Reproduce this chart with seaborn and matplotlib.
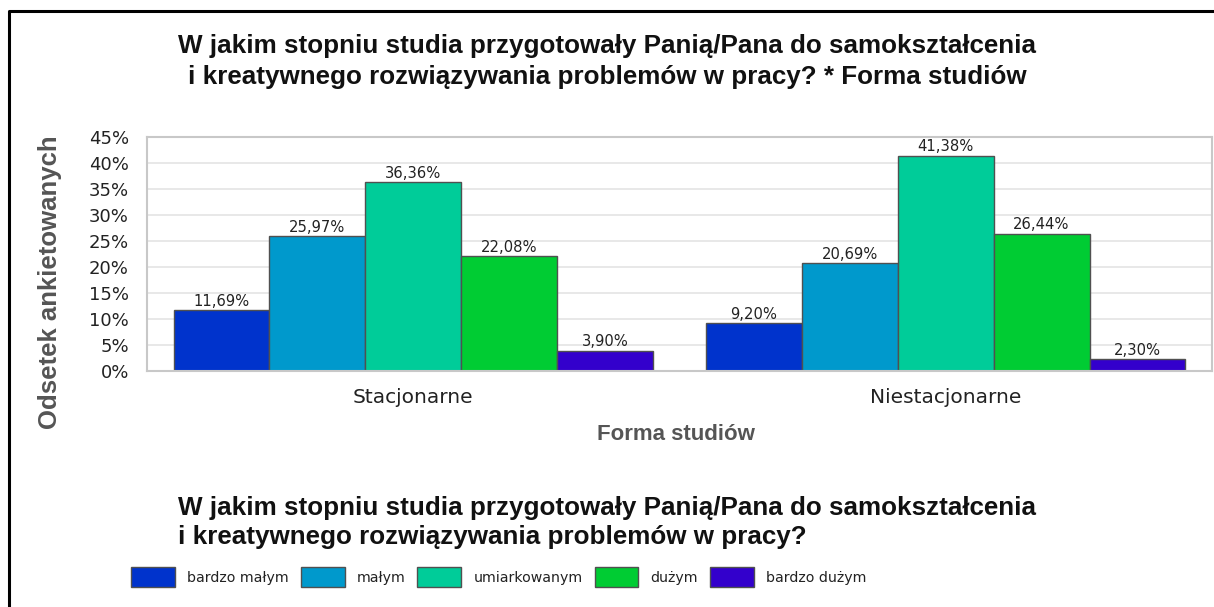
import seaborn as sns
import matplotlib.pyplot as plt
import pandas as pd
from matplotlib.patches import Patch
from matplotlib.lines import Line2D

# data
forma = ['Stacjonarne', 'Niestacjonarne']
poziomy = ['bardzo małym', 'małym', 'umiarkowanym', 'dużym', 'bardzo dużym']
stacjonarne = [11.69, 25.97, 36.36, 22.08, 3.90]
niestacjonarne = [9.20, 20.69, 41.38, 26.44, 2.30]
kolory = ['#0033cc', '#0099cc', '#00cc99', '#00cc33', '#3300cc']
yticks = [0, 5, 10, 15, 20, 25, 30, 35, 40, 45]

df = pd.DataFrame({
    'forma': [forma[0]] * 5 + [forma[1]] * 5,
    'poziom': poziomy + poziomy,
    'odsetek': stacjonarne + niestacjonarne,
})

sns.set_style('white')
plt.rcParams['font.family'] = ['DejaVu Sans']

W, H = 1214, 607
fig = plt.figure(figsize=(W / 100, H / 100), dpi=100)
ax = fig.add_axes([147 / W, 1 - 371 / H, (1212 - 147) / W, (371 - 137) / H])

sns.barplot(data=df, x='forma', y='odsetek', hue='poziom', hue_order=poziomy,
            palette=kolory, width=0.90, edgecolor='#505050', linewidth=1,
            saturation=1, ax=ax, legend=False)

for cont, vals in zip(ax.containers, zip(stacjonarne, niestacjonarne)):
    ax.bar_label(cont, labels=[f'{v:.2f}%'.replace('.', ',') for v in vals],
                 padding=1, fontsize=10.6, color='#222222')

ax.set_xlim(-0.5, 1.5)
ax.set_ylim(0, 45)
ax.set_yticks(yticks)
ax.set_yticklabels([f'{v}%' for v in yticks], fontsize=13, color='#222222')
ax.tick_params(axis='y', length=0, pad=13)
ax.tick_params(axis='x', which='major', length=0, pad=12, labelsize=14.5,
               labelcolor='#222222')
ax.set_xticks([-0.5, 0.5, 1.5], minor=True)
ax.tick_params(axis='x', which='minor', length=8, width=1.2, color='#c0c0c0')
ax.yaxis.grid(True, color='#e6e6e6', linewidth=1.3)
ax.set_axisbelow(True)
for s in ax.spines.values():
    s.set_color('#c8c8c8')
    s.set_linewidth(1.5)
ax.set_xlabel('')
ax.set_ylabel('')

# titles
tfont = dict(family='Liberation Sans', weight='bold', fontsize=18.7, color='#111111')
fig.text(0.5, 1 - 53 / H, 'W jakim stopniu studia przygotowały Panią/Pana do samokształcenia',
         ha='center', va='baseline', **tfont)
fig.text(0.5, 1 - 84 / H, 'i kreatywnego rozwiązywania problemów w pracy? * Forma studiów',
         ha='center', va='baseline', **tfont)
fig.text(50 / W, 1 - 282 / H, 'Odsetek ankietowanych', rotation=90, ha='center', va='center',
         family='Liberation Sans', weight='bold', fontsize=18.5, color='#555555')
fig.text(676 / W, 1 - 440 / H, 'Forma studiów', ha='center', va='baseline',
         family='Liberation Sans', weight='bold', fontsize=16, color='#555555')

# legend
fig.text(178 / W, 1 - 515 / H, 'W jakim stopniu studia przygotowały Panią/Pana do samokształcenia',
         ha='left', va='baseline', **tfont)
fig.text(178 / W, 1 - 544 / H, 'i kreatywnego rozwiązywania problemów w pracy?',
         ha='left', va='baseline', **tfont)
handles = [Patch(facecolor=c, edgecolor='#505050', linewidth=1) for c in kolory]
fig.legend(handles, poziomy, loc='center left', bbox_to_anchor=(131 / W, 1 - 577 / H),
           ncol=5, frameon=False, fontsize=10.2, handlelength=3.1, handleheight=1.76,
           handletextpad=0.85, columnspacing=0.85, borderaxespad=0, borderpad=0,
           labelcolor='#222222')

# black frame on top and left
fig.add_artist(Line2D([9 / W, 9 / W, 1], [0, 1 - 11 / H, 1 - 11 / H],
                      color='black', linewidth=2.2, transform=fig.transFigure))

fig.savefig('out.png', dpi=100)
